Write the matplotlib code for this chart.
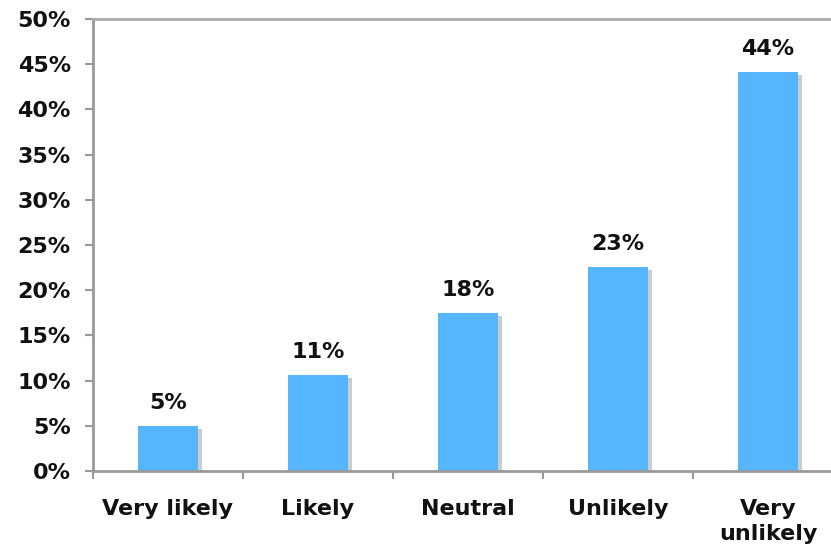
import matplotlib
matplotlib.use("Agg")
import matplotlib.pyplot as plt
from matplotlib.transforms import ScaledTranslation

categories = ["Very likely", "Likely", "Neutral", "Unlikely", "Very\nunlikely"]
values = [5.0, 10.6, 17.5, 22.6, 44.1]
labels = ["5%", "11%", "18%", "23%", "44%"]
yticks = [0, 5, 10, 15, 20, 25, 30, 35, 40, 45, 50]

plt.rcParams['font.family'] = ['DejaVu Sans']
plt.rcParams['font.weight'] = 'bold'

fig = plt.figure(figsize=(8.31, 5.48), dpi=100)
ax = fig.add_axes([93/831, 77/548, 750/831, 452/548])

x = list(range(len(categories)))
shadow = ax.bar(x, values, width=0.4, color="#cccccc", zorder=1)
off = ScaledTranslation(4/100, -3/100, fig.dpi_scale_trans)
for p in shadow.patches:
    p.set_transform(ax.transData + off)
    p.set_clip_on(True)
ax.bar(x, values, width=0.4, color="#55b5fd", zorder=2)

fs = 16
for xi, v, lab in zip(x, values, labels):
    ax.annotate(lab, (xi, v), xytext=(0, 13), textcoords="offset pixels",
                ha="center", va="bottom", fontsize=fs, fontweight="bold",
                color="#111111")

ax.set_xlim(-0.5, len(categories) - 0.5)
ax.set_ylim(0, 50)
ax.set_yticks(yticks)
ax.set_yticklabels([f"{t}%" for t in yticks], fontsize=fs, fontweight="bold", color="#111111")
ax.set_xticks(x)
ax.set_xticklabels(categories, fontsize=fs, fontweight="bold", color="#111111", linespacing=1.3)
ax.set_xticks([i - 0.5 for i in range(len(categories) + 1)], minor=True)
ax.tick_params(axis="x", which="major", length=0, pad=20)
ax.tick_params(axis="x", which="minor", length=6, width=1.5, color="#999999", direction="out")
ax.tick_params(axis="y", length=6, width=1.5, color="#999999", pad=10, direction="out")
for lab in ax.get_xticklabels():
    lab.set_verticalalignment("top")

for s in ["left", "bottom", "top"]:
    ax.spines[s].set_color("#999999")
    ax.spines[s].set_linewidth(2)
ax.spines["top"].set_color("#aaaaaa")
ax.spines["right"].set_visible(False)

fig.savefig("out.png", dpi=100)
